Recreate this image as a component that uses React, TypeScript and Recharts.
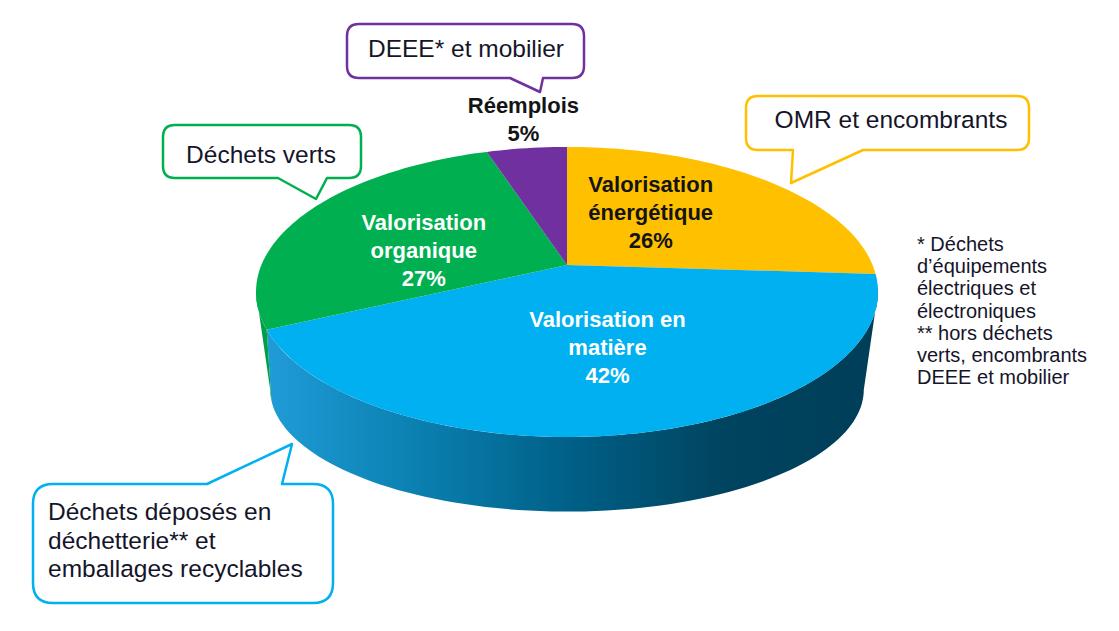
import { Pie, PieChart } from "recharts";

// slices, clockwise from 12 o'clock
const slices = ["Valorisation énergétique", "Valorisation en matière", "Valorisation organique", "Réemplois"];
const shares = [26, 42, 27, 5];
const sliceLines = [
  ["Valorisation", "énergétique"],
  ["Valorisation en", "matière"],
  ["Valorisation", "organique"],
  ["Réemplois"],
];
const bubbleTexts = [
  ["OMR et encombrants"],
  ["Déchets déposés en", "déchetterie** et", "emballages recyclables"],
  ["Déchets verts"],
  ["DEEE* et mobilier"],
];
const footnotes = [
  "* Déchets",
  "d’équipements",
  "électriques et",
  "électroniques",
  "** hors déchets",
  "verts, encombrants",
  "DEEE et mobilier",
];

const data = slices.map((name, i) => ({ name, value: shares[i] }));

const FONT = "'Liberation Sans', Arial, sans-serif";
const TOP_FILL = ["#FFC000", "#00B0F0", "#00B050", "#7030A0"];
const SIDE_FILL = ["#C99A00", "url(#sideBlue)", "#009E46", "#55207F"];
const INK = ["#141414", "#ffffff", "#ffffff", "#141414"];
const LABEL_R = [0.5, 0.5, 0.5, 1.25];
const NUDGE = [
  [-21, -8],
  [9, 6],
  [-8, 12],
  [5, -5],
];

// perspective planes for the top face and the base of the pie
type Plane = { x: number; y: number; r: number; h: number; k: number };
const TOP_PLANE: Plane = { x: 567, y: 265, r: 305.6, h: 140, k: 0.186 };
const BASE_PLANE: Plane = { x: 567, y: 347, r: 278, h: 107, k: 0.35 };

function project(p: Plane, deg: number, f = 1): [number, number] {
  const a = (deg * Math.PI) / 180;
  const u = f * Math.cos(a);
  const v = f * Math.sin(a);
  const d = 1 + p.k * v;
  return [p.x + (p.r * u) / d, p.y - (p.h * v) / d];
}

function arc(p: Plane, a0: number, a1: number) {
  const n = Math.max(2, Math.ceil(Math.abs(a1 - a0) / 1.5));
  const out: [number, number][] = [];
  for (let i = 0; i <= n; i++) out.push(project(p, a0 + ((a1 - a0) * i) / n));
  return out;
}

// visible front range of a plane's rim (between its two silhouette points)
function front(p: Plane): [number, number] {
  const s = (Math.asin(p.k) * 180) / Math.PI;
  return [-180 + s, -s];
}

function clip(lo: number, hi: number, r: [number, number]): [number, number] | null {
  for (const s of [-360, 0, 360]) {
    const a = Math.max(lo, r[0] + s);
    const b = Math.min(hi, r[1] + s);
    if (b > a) return [a, b];
  }
  return null;
}

const toPath = (pts: [number, number][]) =>
  pts.map((q, i) => `${i ? "L" : "M"}${q[0].toFixed(1)},${q[1].toFixed(1)}`).join("") + "Z";

function renderSlice(props: any) {
  const { startAngle, endAngle, index, percent } = props;
  const lo = Math.min(startAngle, endAngle);
  const hi = Math.max(startAngle, endAngle);
  const mid = (startAngle + endAngle) / 2;

  let wall = null;
  const t = clip(lo, hi, front(TOP_PLANE));
  if (t) {
    const b = clip(lo, hi, front(BASE_PLANE));
    const pts = [...arc(TOP_PLANE, t[0], t[1]), ...(b ? arc(BASE_PLANE, b[1], b[0]) : [])];
    wall = <path d={toPath(pts)} fill={SIDE_FILL[index]} />;
  }

  const face = [[TOP_PLANE.x, TOP_PLANE.y] as [number, number], ...arc(TOP_PLANE, startAngle, endAngle)];

  const [ax, ay] = project(TOP_PLANE, mid, LABEL_R[index]);
  const cx = ax + NUDGE[index][0];
  const cy = ay + NUDGE[index][1];
  const lines = [...sliceLines[index], `${Math.round(percent * 100)}%`];
  const n = lines.length;

  return (
    <g>
      {wall}
      <path d={toPath(face)} fill={TOP_FILL[index]} />
      <text
        textAnchor="middle"
        fill={INK[index]}
        fontFamily={FONT}
        fontWeight="bold"
        fontSize={22}
      >
        {lines.map((s, i) => (
          <tspan key={i} x={cx} y={cy + (i - (n - 1) / 2) * 28 + 8}>
            {s}
          </tspan>
        ))}
      </text>
    </g>
  );
}

type Bubble = {
  x: number;
  y: number;
  w: number;
  h: number;
  r: number;
  color: string;
  edge: "top" | "bottom";
  a: number;
  b: number;
  tip: [number, number];
  tx: number;
  ty: number;
  anchor: "middle" | "start";
};

const BUBBLES: Bubble[] = [
  { x: 746, y: 96, w: 283, h: 54, r: 12, color: "#FFC000", edge: "bottom", a: 793, b: 863, tip: [791, 183], tx: 891, ty: 128, anchor: "middle" },
  { x: 33, y: 484, w: 300, h: 119, r: 20, color: "#00B0F0", edge: "top", a: 207, b: 282, tip: [292, 444], tx: 48, ty: 520, anchor: "start" },
  { x: 163, y: 125, w: 198, h: 53, r: 12, color: "#00B050", edge: "bottom", a: 278, b: 327, tip: [316, 199], tx: 261, ty: 163, anchor: "middle" },
  { x: 347, y: 24, w: 237, h: 54, r: 12, color: "#7030A0", edge: "bottom", a: 510, b: 543, tip: [540, 92], tx: 466, ty: 57, anchor: "middle" },
];

function bubblePath(bb: Bubble) {
  const { x, y, w, h, r, a, b, tip } = bb;
  const R = x + w;
  const B = y + h;
  const top = bb.edge === "top" ? `H${a}L${tip[0]},${tip[1]}L${b},${y}` : "";
  const bottom = bb.edge === "bottom" ? `H${b}L${tip[0]},${tip[1]}L${a},${B}` : "";
  return (
    `M${x + r},${y}${top}H${R - r}Q${R},${y} ${R},${y + r}V${B - r}Q${R},${B} ${R - r},${B}` +
    `${bottom}H${x + r}Q${x},${B} ${x},${B - r}V${y + r}Q${x},${y} ${x + r},${y}Z`
  );
}

export default function App() {
  return (
    <div style={{ position: "absolute", left: 0, top: 0, width: 1119, height: 631, background: "#fff" }}>
      <svg width={0} height={0} style={{ position: "absolute" }}>
        <defs>
          <linearGradient id="sideBlue" gradientUnits="userSpaceOnUse" x1={265} y1={0} x2={878} y2={0}>
            <stop offset="0%" stopColor="#209CD8" />
            <stop offset="25%" stopColor="#0A80B0" />
            <stop offset="50%" stopColor="#005F87" />
            <stop offset="75%" stopColor="#00445F" />
            <stop offset="100%" stopColor="#003E58" />
          </linearGradient>
        </defs>
      </svg>
      <PieChart width={1119} height={631} margin={{ top: 0, right: 0, bottom: 0, left: 0 }}>
        <Pie
          data={data}
          dataKey="value"
          nameKey="name"
          cx={567}
          cy={265}
          outerRadius={10}
          startAngle={90}
          endAngle={-270}
          fill="transparent"
          stroke="none"
          label={renderSlice}
          labelLine={false}
          isAnimationActive={false}
        />
      </PieChart>
      <svg width={1119} height={631} style={{ position: "absolute", left: 0, top: 0, pointerEvents: "none" }}>
        {BUBBLES.map((bb, i) => (
          <g key={i}>
            <path d={bubblePath(bb)} fill="#fff" stroke={bb.color} strokeWidth={2.5} strokeLinejoin="round" />
            <text textAnchor={bb.anchor} fontFamily={FONT} fontSize={24.5} fill="#15152a">
              {bubbleTexts[i].map((s, j) => (
                <tspan key={j} x={bb.tx} y={bb.ty + j * 28.5}>
                  {s}
                </tspan>
              ))}
            </text>
          </g>
        ))}
        <text fontFamily={FONT} fontSize={20} fill="#15152a">
          {footnotes.map((s, j) => (
            <tspan key={j} x={917} y={251 + j * 22.2}>
              {s}
            </tspan>
          ))}
        </text>
      </svg>
    </div>
  );
}
